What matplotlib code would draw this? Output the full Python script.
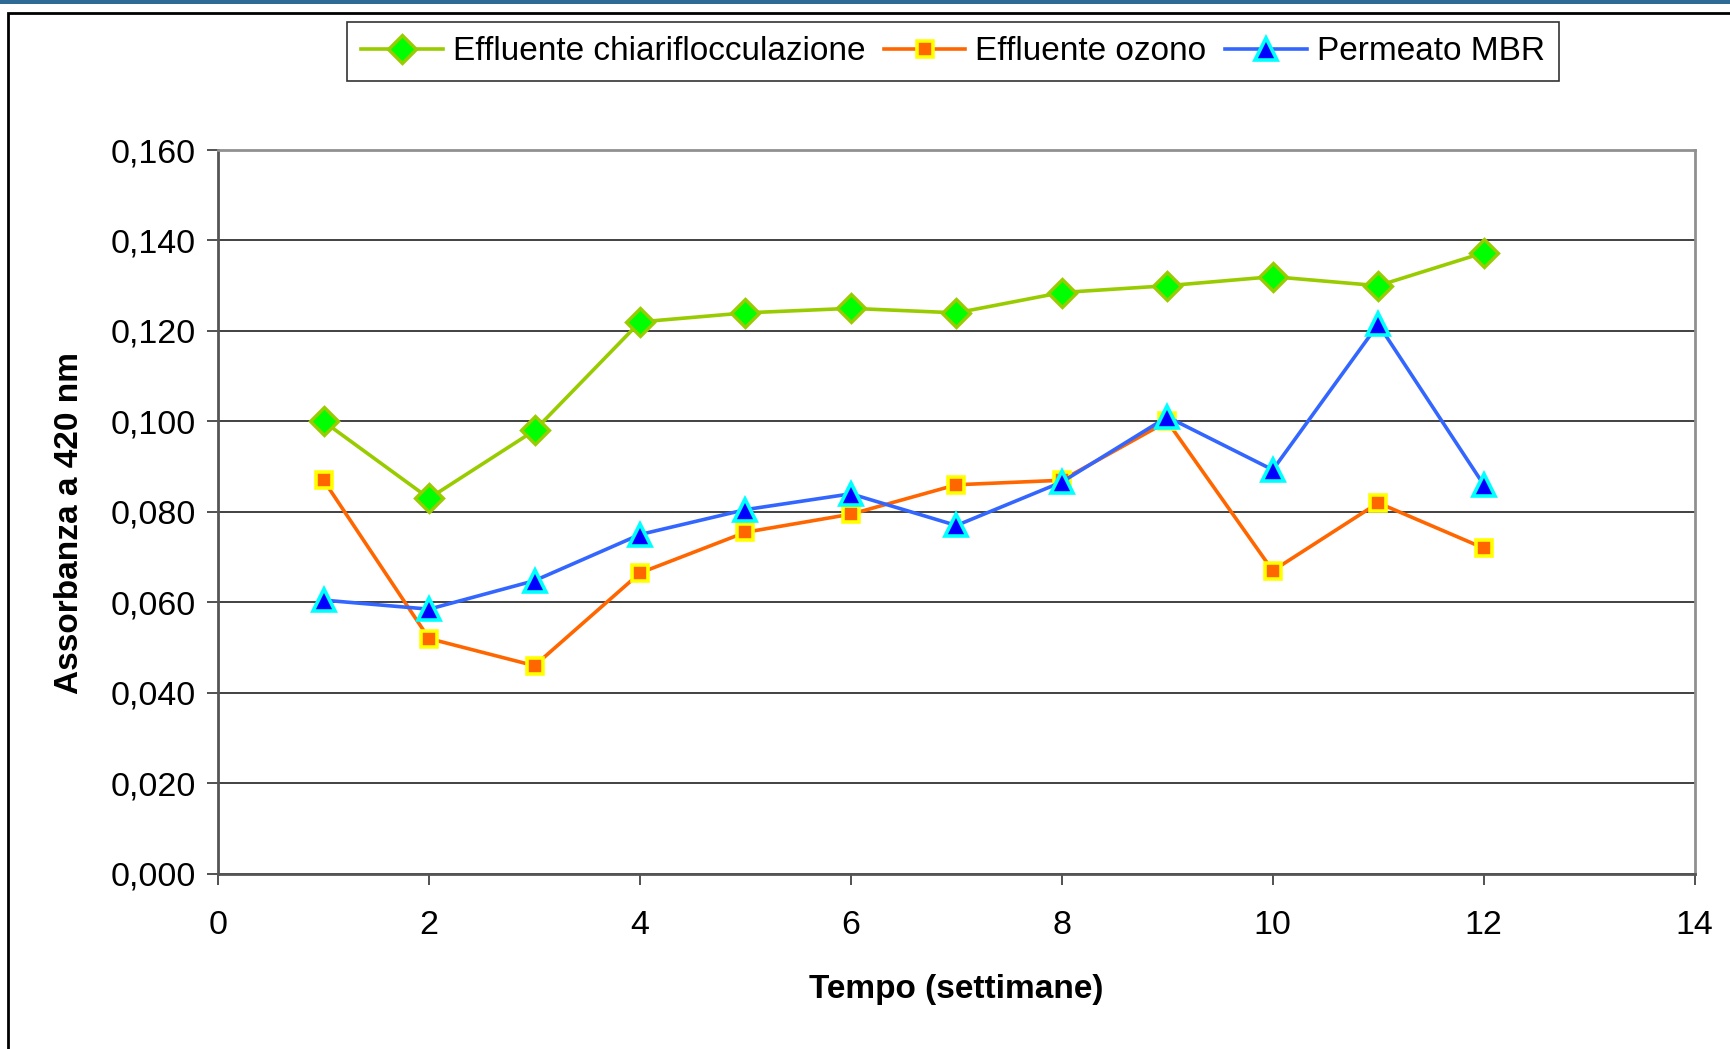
import numpy as np
import matplotlib.pyplot as plt
from matplotlib.patches import Rectangle
from matplotlib.ticker import FuncFormatter

plt.rcParams['font.family'] = ['Liberation Sans', 'DejaVu Sans']

weeks = [1, 2, 3, 4, 5, 6, 7, 8, 9, 10, 11, 12]
chiari = [0.100, 0.083, 0.098, 0.122, 0.124, 0.125, 0.124, 0.1285, 0.130, 0.132, 0.130, 0.1373]
ozono = [0.087, 0.052, 0.046, 0.0665, 0.0755, 0.0795, 0.086, 0.087, 0.100, 0.067, 0.082, 0.072]
mbr = [0.0605, 0.0585, 0.0648, 0.0750, 0.0805, 0.0840, 0.0770, 0.0866, 0.1010, 0.0893, 0.1215, 0.0860]

labels = ['Effluente chiariflocculazione', 'Effluente ozono', 'Permeato MBR']

fig = plt.figure(figsize=(17.31, 10.49), dpi=100)
ax = fig.add_axes([0.126, 0.167, 0.853, 0.690])

# frame around the whole chart and the strip at the top
fig.patches.append(Rectangle((0.0045, -0.05), 1.2, 1.038, transform=fig.transFigure,
                             fill=False, edgecolor='black', linewidth=2.0, zorder=0))
fig.patches.append(Rectangle((0, 0.9962), 1, 0.01, transform=fig.transFigure,
                             facecolor='#2E6A94', edgecolor='none', zorder=1))

ax.plot(weeks, chiari, color='#99CC00', lw=2.6, marker='D', ms=14,
        mfc='#00FF00', mec='#99CC00', mew=2.4, label=labels[0], zorder=3)
ax.plot(weeks, ozono, color='#FF6600', lw=2.6, marker='s', ms=12,
        mfc='#FF6600', mec='#FFFF00', mew=2.6, label=labels[1], zorder=3)
ax.plot(weeks, mbr, color='#3366FF', lw=2.6, marker='^', ms=15.5,
        mfc='#0000FF', mec='#00FFFF', mew=2.6, label=labels[2], zorder=4)

ax.set_xlim(0, 14)
ax.set_ylim(0, 0.16)
ax.set_xticks(np.arange(0, 15, 2))
ax.set_yticks(np.arange(0, 0.161, 0.02))
ax.yaxis.set_major_formatter(FuncFormatter(lambda v, p: f'{v:.3f}'.replace('.', ',')))
ax.grid(axis='y', color='#333333', lw=1.3)
ax.set_axisbelow(True)

for side in ['top', 'right']:
    ax.spines[side].set_color('#909090')
    ax.spines[side].set_linewidth(2)
for side in ['left', 'bottom']:
    ax.spines[side].set_color('#555555')
    ax.spines[side].set_linewidth(2)

ax.tick_params(axis='both', labelsize=24.5, direction='out', length=8, width=1.2,
               color='#333333')
ax.tick_params(axis='x', pad=18)
ax.tick_params(axis='y', pad=8)

ax.set_xlabel('Tempo (settimane)', fontsize=24, fontweight='bold', labelpad=24)
ax.set_ylabel('Assorbanza a 420 nm', fontsize=24, fontweight='bold', labelpad=20)
ax.yaxis.set_label_coords(-0.09, 0.485)

leg = ax.legend(loc='center', bbox_to_anchor=(0.5505, 0.9505), bbox_transform=fig.transFigure,
                ncol=3, fontsize=24, frameon=True, fancybox=False, handlelength=2.45,
                handletextpad=0.3, columnspacing=0.55, borderpad=0.42)
leg.get_frame().set_edgecolor('black')
leg.get_frame().set_linewidth(1.2)

fig.savefig('out.png', dpi=100)
